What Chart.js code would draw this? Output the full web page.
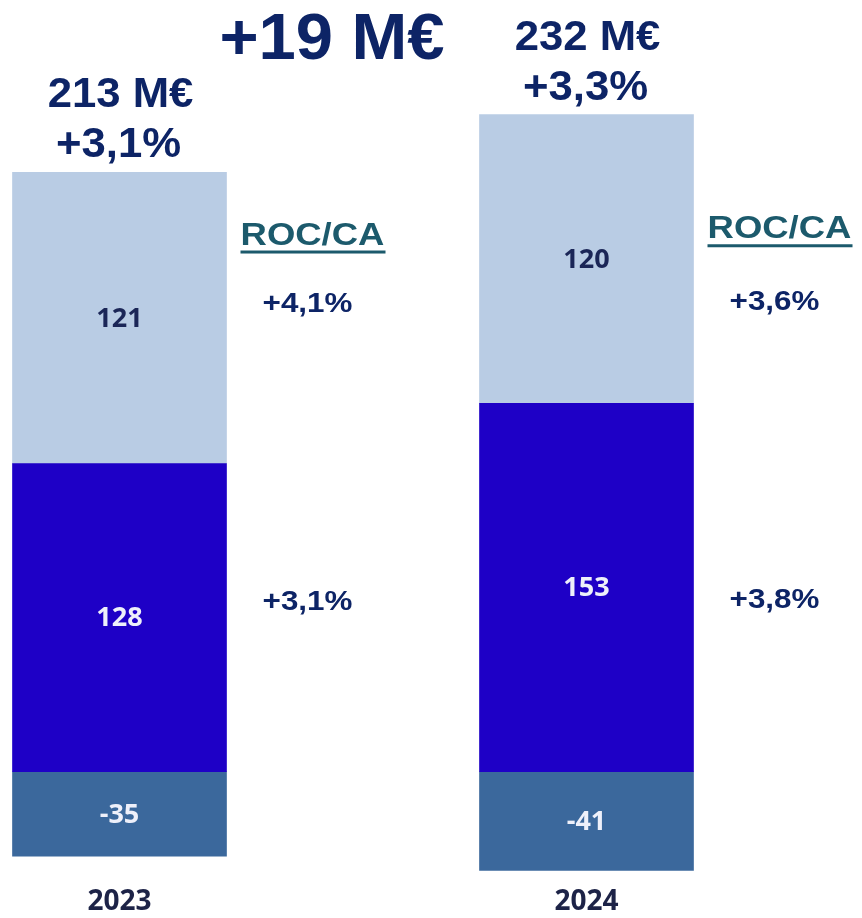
<!DOCTYPE html>
<html>
<head>
<meta charset="utf-8">
<script src="https://cdn.jsdelivr.net/npm/chart.js@4.4.1/dist/chart.umd.min.js"></script>
<style>
  body { margin: 0; background: #fff; }
  #wrap { width: 862px; height: 918px; }
</style>
</head>
<body>
<div id="wrap"><canvas id="chart-roc"></canvas></div>
<script>
const years = ['2023', '2024'];
const upperValues = [121, 120];
const middleValues = [128, 153];
const lowerValues = [-35, -41];
const totalLabels = ['213 M€', '232 M€'];
const growthLabels = ['+3,1%', '+3,3%'];
const deltaLabel = '+19 M€';
const rocTitle = 'ROC/CA';
const rocUpper = ['+4,1%', '+3,6%'];
const rocMiddle = ['+3,1%', '+3,8%'];

const navy = '#0d2466';

function drawText(ctx, text, x, y, font, color, sx) {
    ctx.save();
    ctx.font = font;
    ctx.fillStyle = color;
    ctx.textAlign = 'center';
    ctx.textBaseline = 'alphabetic';
    ctx.translate(x, y);
    ctx.scale(sx || 1, 1);
    ctx.fillText(text, 0, 0);
    ctx.restore();
}

const annotations = {
    id: 'annotations',
    afterDatasetsDraw(chart) {
        const ctx = chart.ctx;
        const x = chart.scales.x;
        const y = chart.scales.y;

        // values inside the segments
        chart.data.datasets.forEach((ds, i) => {
            chart.getDatasetMeta(i).data.forEach((bar, j) => {
                const p = bar.getProps(['x', 'y', 'base'], true);
                ctx.save();
                ctx.font = 'bold 27px "Open Sans"';
                ctx.fillStyle = ds.labelColor;
                ctx.textAlign = 'center';
                ctx.textBaseline = 'middle';
                ctx.fillText(String(ds.data[j]), p.x, (p.y + p.base) / 2 + 1);
                ctx.restore();
            });
        });

        years.forEach((yr, j) => {
            const cx = x.getPixelForValue(j);
            const top = y.getPixelForValue(upperValues[j] + middleValues[j]);
            drawText(ctx, totalLabels[j], cx + 1, top - 65, 'bold 42px "Liberation Sans"', navy, 1.04);
            drawText(ctx, growthLabels[j], cx - 1, top - 15, 'bold 42px "Liberation Sans"', navy, 1.04);

            // ROC/CA column right of each bar
            const rx = cx + 107;
            const headY = y.getPixelForValue([219, 221.6][j]);
            drawText(ctx, rocTitle, rx + 86, headY, 'bold 32px "Liberation Sans"', '#1c5a6c', 1.14);
            ctx.fillStyle = '#1c5a6c';
            ctx.fillRect(rx + 14, headY + 6, 145, 3);
            drawText(ctx, rocUpper[j], rx + 81, y.getPixelForValue([191, 192][j]), 'bold 28px "Liberation Sans"', navy, 1.12);
            drawText(ctx, rocMiddle[j], rx + 81, y.getPixelForValue([67, 68][j]), 'bold 28px "Liberation Sans"', navy, 1.12);
        });

        const mid = (x.getPixelForValue(0) + x.getPixelForValue(1)) / 2;
        drawText(ctx, deltaLabel, mid - 21, y.getPixelForValue(296), 'bold 65px "Liberation Sans"', navy, 1.03);
    }
};

new Chart(document.getElementById('chart-roc'), {
    type: 'bar',
    data: {
        labels: years,
        datasets: [{
                label: 'middle',
                data: middleValues,
                backgroundColor: '#1e00c6',
                labelColor: '#eef0fa',
                barThickness: 214,
                clip: false
            },
            {
                label: 'upper',
                data: upperValues,
                backgroundColor: '#b9cce4',
                labelColor: '#1b2657',
                barThickness: 214,
                clip: false
            },
            {
                label: 'lower',
                data: lowerValues,
                backgroundColor: '#3b689c',
                labelColor: '#eef0fa',
                barThickness: 214,
                clip: false
            }
        ]
    },
    options: {
        responsive: true,
        maintainAspectRatio: false,
        animation: false,
        layout: {
            padding: { left: 119.5, right: 275.5, top: 49.5, bottom: 0 }
        },
        plugins: {
            legend: { display: false },
            tooltip: { enabled: false }
        },
        scales: {
            x: {
                stacked: true,
                offset: false,
                grid: { display: false, drawTicks: false },
                border: { display: false },
                afterFit: function(scale) {
                    scale.height = 47.5;
                },
                ticks: {
                    padding: 15,
                    color: '#1d2347',
                    font: { size: 28, family: 'Open Sans', weight: 'bold' }
                }
            },
            y: {
                stacked: true,
                display: false,
                min: -41,
                max: 300
            }
        }
    },
    plugins: [annotations]
});
</script>
</body>
</html>
